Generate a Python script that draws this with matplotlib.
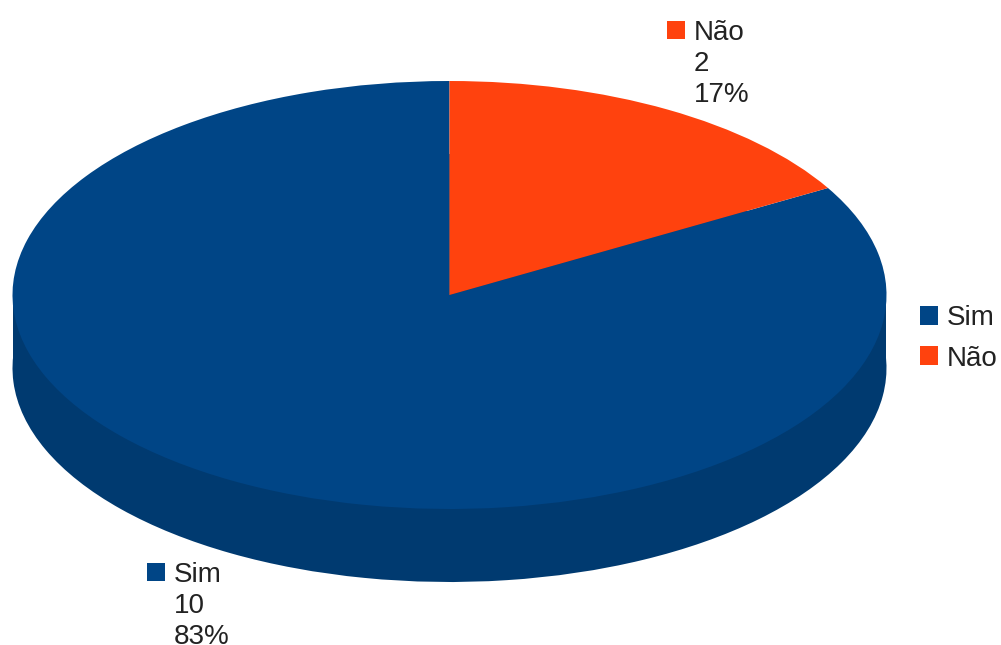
import matplotlib
matplotlib.use('Agg')
import matplotlib.pyplot as plt
from matplotlib.patches import Patch, Rectangle

labels = ['Sim', 'Não']
counts = [10, 2]
colors = ['#004586', '#ff420e']
side_color = '#003a70'
text_color = '#222222'

W, H = 1001, 645
depth = 73.0 / 214.0

plt.rcParams['font.family'] = ['Liberation Sans', 'DejaVu Sans']

fig = plt.figure(figsize=(W / 100, H / 100), dpi=100, facecolor='white')
# axes cover just the top face of the disc, the rim hangs below it
ax = fig.add_axes([12.5 / W, 1 - 509.0 / H, 874.0 / W, 428.0 / H])

# rim: darker copy of the disc moved down, with a band joining the two
ax.pie(counts, startangle=90, colors=[side_color, side_color],
       center=(0, -depth), radius=1, wedgeprops={'linewidth': 0})
ax.fill_between([-1, 1], -depth, 0, color=side_color, linewidth=0, clip_on=False)
ax.pie(counts, startangle=90, colors=colors, center=(0, 0), radius=1,
       wedgeprops={'linewidth': 0})
ax.set_aspect('auto')
ax.set_xlim(-1, 1)
ax.set_ylim(-1, 1)


def dataLabel(i, x, y):
    # square key followed by name, count and share, position in pixels
    pct = round(100.0 * counts[i] / sum(counts))
    fig.add_artist(Rectangle((x / W, 1 - (y + 9) / H), 18.0 / W, 18.0 / H,
                             transform=fig.transFigure, color=colors[i], lw=0))
    fig.text((x + 27) / W, 1 - (y - 10.5) / H,
             '%s\n%d\n%d%%' % (labels[i], counts[i], pct),
             fontsize=20, color=text_color, va='top', ha='left',
             linespacing=1.26)


dataLabel(0, 147, 572)
dataLabel(1, 667, 30)

handles = [Patch(color=c, lw=0) for c in colors]
fig.legend(handles, labels, loc='upper left',
           bbox_to_anchor=(912.0 / W, 1 - 297.0 / H),
           frameon=False, fontsize=20, labelcolor=text_color,
           handlelength=0.65, handleheight=0.65, handletextpad=0.3,
           labelspacing=0.51, borderpad=0.3, borderaxespad=0)

fig.savefig('out.png', dpi=100)
